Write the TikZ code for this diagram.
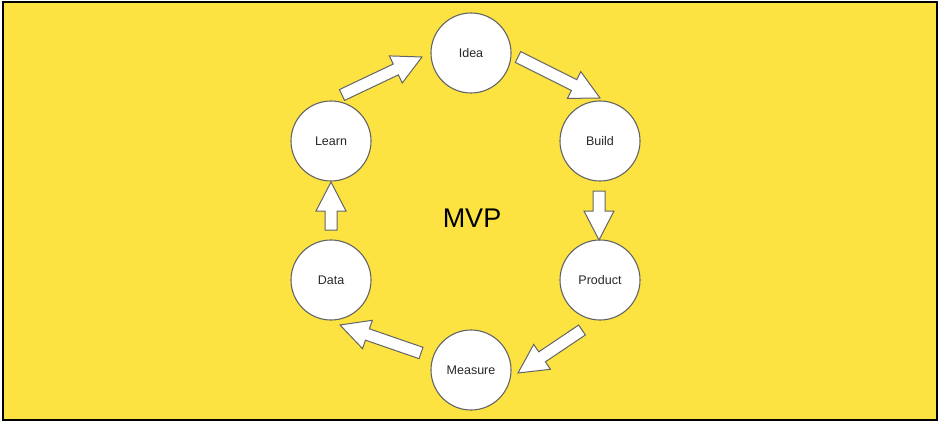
\documentclass[tikz,border=0pt]{standalone}
\usepackage{fontspec}
\setmainfont{Liberation Sans}
\usetikzlibrary{calc}
\definecolor{bgyellow}{RGB}{252,227,66}
\definecolor{edgegray}{RGB}{100,100,100}
\definecolor{txtgray}{RGB}{40,40,40}
\tikzset{
  stage/.style={circle, draw=edgegray, line width=1.1pt, fill=white, minimum size=80pt, inner sep=0pt,
    font=\fontsize{12.5}{15}\selectfont, text=txtgray},
  arrowbody/.style={draw=edgegray, line width=1pt, fill=white, line join=miter},
}
\newcommand\blockarrow[2]{%
  \draw[arrowbody] let \p1=(#1), \p2=(#2),
    \n1={atan2(\y2-\y1,\x2-\x1)}, \n2={veclen(\x2-\x1,\y2-\y1)} in
    [shift={(\p1)}, rotate=\n1]
    (0pt,-6pt) -- (\n2-29pt,-6pt) -- (\n2-29pt,-15pt) -- (\n2,0pt) -- (\n2-29pt,15pt) -- (\n2-29pt,6pt) -- (0pt,6pt) -- cycle;}
\begin{document}
\begin{tikzpicture}[x=1pt,y=1pt]
\useasboundingbox (0,0) rectangle (940,-425);
\fill[white] (0,0) rectangle (940,-425);
\draw[fill=bgyellow, draw=black, line width=1.3pt] (3,-2) rectangle (937,-420);

\node[stage] (idea) at (471,-53) {Idea};
\node[stage] (learn) at (331,-141) {Learn};
\node[stage] (build) at (600,-141) {Build};
\node[stage] (product) at (600,-280) {Product};
\node[stage] (data) at (331,-280) {Data};
\node[stage] (measure) at (471,-370) {Measure};

\node[font=\fontsize{27}{32}\selectfont, text=black] (mvp) at (472,-218) {MVP};

\coordinate (a1s) at (342,-95);
\coordinate (a1e) at (422,-57);
\coordinate (a2s) at (518,-57);
\coordinate (a2e) at (600,-98);
\coordinate (a3s) at (599,-191);
\coordinate (a3e) at (599,-240);
\coordinate (a4s) at (582,-330);
\coordinate (a4e) at (518,-373);
\coordinate (a5s) at (421,-353);
\coordinate (a5e) at (340,-325);
\coordinate (a6s) at (331,-230);
\coordinate (a6e) at (331,-182);

\blockarrow{a1s}{a1e}
\blockarrow{a2s}{a2e}
\blockarrow{a3s}{a3e}
\blockarrow{a4s}{a4e}
\blockarrow{a5s}{a5e}
\blockarrow{a6s}{a6e}
\end{tikzpicture}
\end{document}
